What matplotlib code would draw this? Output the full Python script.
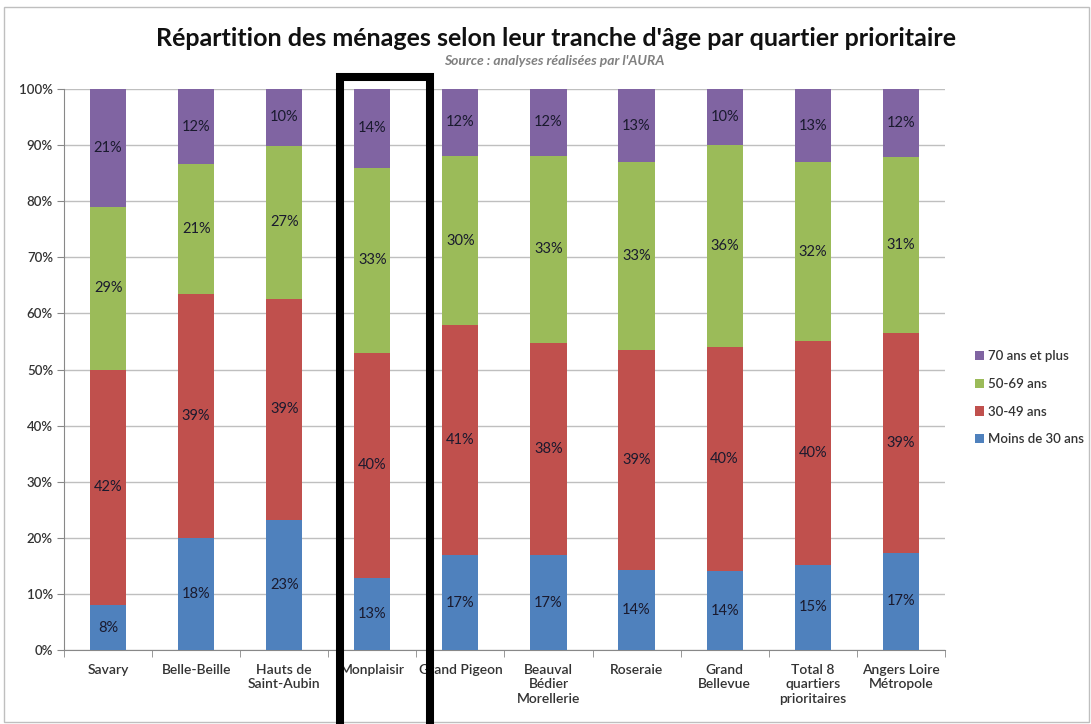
import matplotlib
matplotlib.use('Agg')
import matplotlib.pyplot as plt
from matplotlib.patches import Rectangle
import numpy as np

plt.rcParams['font.family'] = ['Lato', 'DejaVu Sans']

# Quartiers
quartiers = ['Savary', 'Belle-Beille', 'Hauts de\nSaint-Aubin', 'Monplaisir', 'Grand Pigeon',
             'Beauval\nBédier\nMorellerie', 'Roseraie', 'Grand\nBellevue',
             'Total 8\nquartiers\nprioritaires', 'Angers Loire\nMétropole']

# Hauteurs des barres (en %)
moins_30 = [8.0, 20.0, 23.2, 12.9, 16.9, 16.9, 14.2, 14.0, 15.2, 17.3]
ans_30_49 = [42.0, 43.5, 39.4, 40.1, 41.0, 37.9, 39.3, 40.1, 39.8, 39.3]
ans_50_69 = [29.0, 23.1, 27.3, 33.0, 30.2, 33.3, 33.5, 36.0, 32.0, 31.3]
ans_70_plus = [21.0, 13.4, 10.1, 14.0, 11.9, 11.9, 13.0, 9.9, 13.0, 12.1]

# Etiquettes affichées
lab_moins_30 = ['8%', '18%', '23%', '13%', '17%', '17%', '14%', '14%', '15%', '17%']
lab_30_49 = ['42%', '39%', '39%', '40%', '41%', '38%', '39%', '40%', '40%', '39%']
lab_50_69 = ['29%', '21%', '27%', '33%', '30%', '33%', '33%', '36%', '32%', '31%']
lab_70_plus = ['21%', '12%', '10%', '14%', '12%', '12%', '13%', '10%', '13%', '12%']

series = [('Moins de 30 ans', moins_30, lab_moins_30, '#4F81BD'),
          ('30-49 ans', ans_30_49, lab_30_49, '#C0504D'),
          ('50-69 ans', ans_50_69, lab_50_69, '#9BBB59'),
          ('70 ans et plus', ans_70_plus, lab_70_plus, '#8064A2')]

fig = plt.figure(figsize=(10.91, 7.24), dpi=100)
ax = fig.add_axes([0.0587, 0.1022, 0.8073, 0.7748])

x = np.arange(len(quartiers))
bottom = np.zeros(len(quartiers))
handles = []
for name, vals, labs, col in series:
    vals = np.array(vals)
    b = ax.bar(x, vals, 0.41, bottom=bottom, color=col, label=name, zorder=3)
    handles.append(b)
    for xi, v, bo, t in zip(x, vals, bottom, labs):
        ax.text(xi, bo + v / 2, t, ha='center', va='center', fontsize=10.5,
                color='#1a1a2e', zorder=4)
    bottom = bottom + vals

ax.set_xlim(-0.5, len(quartiers) - 0.5)
ax.set_ylim(0, 100)
ax.set_yticks(range(0, 101, 10))
ax.set_yticklabels([f'{v}%' for v in range(0, 101, 10)], fontsize=9.5, fontweight='semibold',
                   color='#333333')
ax.yaxis.grid(True, color='#BFBFBF', linewidth=1, zorder=0)
ax.set_xticks(x)
ax.set_xticklabels(quartiers, fontsize=10, fontweight='semibold', color='#333333',
                   linespacing=1.25)
ax.set_xticks(np.arange(-0.5, len(quartiers), 1), minor=True)
ax.tick_params(axis='x', which='major', length=0, pad=10)
ax.tick_params(axis='x', which='minor', length=5, color='#888888')
ax.tick_params(axis='y', length=5, color='#888888', pad=3)
for s in ['top', 'right']:
    ax.spines[s].set_visible(False)
ax.spines['left'].set_color('#888888')
ax.spines['bottom'].set_color('#888888')

leg = fig.legend(handles[::-1], [s[0] for s in series][::-1], loc='upper left',
                 bbox_to_anchor=(0.883, 0.533), frameon=False, fontsize=9.5,
                 handlelength=0.7, handleheight=0.7, handletextpad=0.3, labelspacing=1.2)
for t in leg.get_texts():
    t.set_fontweight('semibold')
    t.set_color('#333333')

fig.text(0.51, 0.947, "Répartition des ménages selon leur tranche d'âge par quartier prioritaire",
         ha='center', va='center', fontsize=18, fontweight='bold', color='#111111')
fig.text(0.508, 0.916, "Source : analyses réalisées par l'AURA", ha='center', va='center',
         fontsize=10, style='italic', fontweight='bold', color='#808080')

# cadre gris du graphique
fig.add_artist(Rectangle((0.004, 0.003), 0.994, 0.987, transform=fig.transFigure,
                         fill=False, edgecolor='#BFBFBF', linewidth=1))

# cadre noir autour de Monplaisir
fig.add_artist(Rectangle((340 / 1091, -0.02), 90 / 1091, 0.02 + (724 - 77) / 724,
                         transform=fig.transFigure, fill=False, edgecolor='black',
                         linewidth=5.8, zorder=10))

plt.savefig('out.png', dpi=100)
